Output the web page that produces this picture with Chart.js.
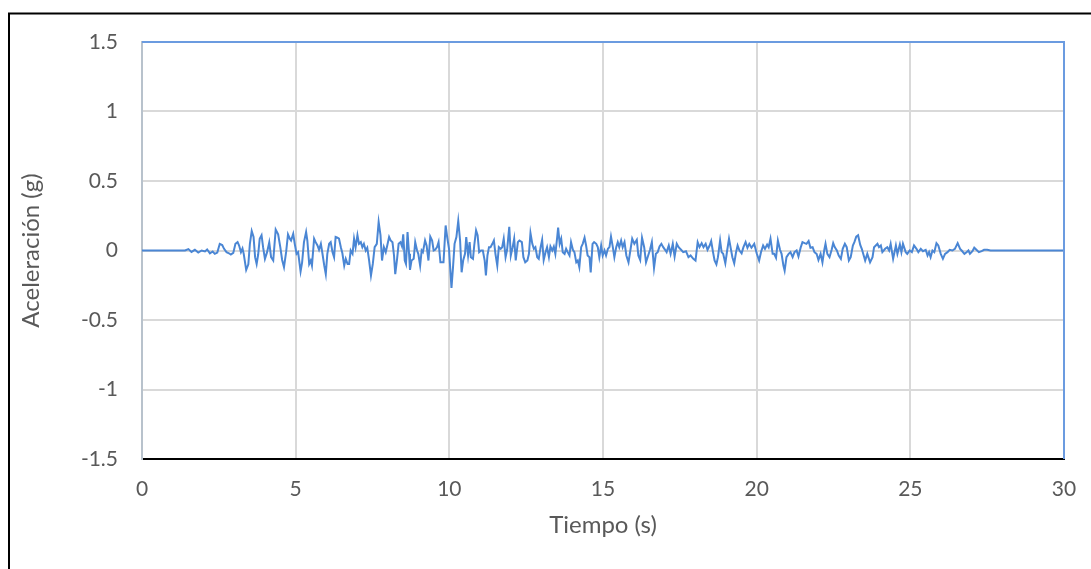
<!DOCTYPE html>
<html lang="es">
<head>
    <meta charset="UTF-8">
    <title>Acelerograma</title>
    <script src="https://cdn.jsdelivr.net/npm/chart.js@4.4.1/dist/chart.umd.min.js"></script>
    <style>
        html, body { margin: 0; padding: 0; background: #ffffff; }
        #grafico { display: block; }
    </style>
</head>
<body>
    <canvas id="grafico" width="1091" height="569"></canvas>

<script>
    // registro: tiempo (s) y aceleracion (g)
    const tiempo = [
        0, 1.40, 1.51, 1.61, 1.72, 1.83, 1.94, 2.05, 2.12, 2.21, 2.30, 2.37, 2.45, 2.53, 2.61, 2.67, 2.75, 2.83, 2.89, 2.97,
        3.04, 3.11, 3.16, 3.22, 3.27, 3.31, 3.39, 3.46, 3.51, 3.57, 3.63, 3.68, 3.73, 3.78, 3.83, 3.89, 3.94, 4.00, 4.07, 4.14,
        4.20, 4.27, 4.35, 4.43, 4.50, 4.56, 4.62, 4.69, 4.75, 4.81, 4.85, 4.92, 4.97, 5.03, 5.08, 5.16, 5.21, 5.27, 5.34, 5.38,
        5.44, 5.49, 5.53, 5.60, 5.65, 5.71, 5.76, 5.82, 5.87, 5.93, 5.98, 6.03, 6.09, 6.14, 6.20, 6.25, 6.30, 6.36, 6.41, 6.47,
        6.52, 6.58, 6.63, 6.69, 6.74, 6.79, 6.85, 6.90, 6.95, 7.01, 7.06, 7.12, 7.17, 7.22, 7.28, 7.33, 7.39, 7.45, 7.51, 7.57,
        7.64, 7.70, 7.76, 7.81, 7.87, 7.93, 7.98, 8.04, 8.09, 8.15, 8.20, 8.24, 8.30, 8.35, 8.41, 8.46, 8.50, 8.55, 8.59, 8.64,
        8.69, 8.72, 8.77, 8.84, 8.89, 8.95, 8.99, 9.05, 9.10, 9.14, 9.21, 9.26, 9.32, 9.38, 9.44, 9.49, 9.54, 9.60, 9.65, 9.71,
        9.76, 9.81, 9.88, 9.93, 9.99, 10.03, 10.07, 10.12, 10.17, 10.23, 10.29, 10.35, 10.40, 10.45, 10.51, 10.55, 10.61, 10.66, 10.70, 10.77,
        10.81, 10.87, 10.92, 10.97, 11.03, 11.09, 11.15, 11.19, 11.24, 11.29, 11.34, 11.40, 11.45, 11.50, 11.56, 11.61, 11.67, 11.72, 11.77, 11.83,
        11.88, 11.95, 12.00, 12.06, 12.11, 12.16, 12.23, 12.28, 12.36, 12.41, 12.47, 12.54, 12.59, 12.64, 12.70, 12.75, 12.80, 12.86, 12.91, 12.97,
        13.02, 13.07, 13.13, 13.18, 13.24, 13.29, 13.35, 13.40, 13.45, 13.51, 13.54, 13.59, 13.64, 13.69, 13.75, 13.80, 13.85, 13.91, 13.96, 14.02,
        14.07, 14.13, 14.18, 14.23, 14.29, 14.34, 14.40, 14.45, 14.50, 14.56, 14.60, 14.66, 14.71, 14.78, 14.83, 14.88, 14.94, 14.99, 15.05, 15.10,
        15.16, 15.21, 15.26, 15.32, 15.37, 15.43, 15.48, 15.53, 15.59, 15.64, 15.70, 15.76, 15.83, 15.89, 15.95, 16.02, 16.10, 16.15, 16.21, 16.27,
        16.34, 16.40, 16.47, 16.53, 16.59, 16.63, 16.66, 16.72, 16.78, 16.84, 16.90, 16.96, 17.02, 17.07, 17.14, 17.20, 17.27, 17.33, 17.40, 17.46,
        17.54, 17.61, 17.70, 17.78, 17.85, 17.94, 18.01, 18.08, 18.14, 18.21, 18.27, 18.34, 18.40, 18.47, 18.52, 18.58, 18.63, 18.69, 18.74, 18.81,
        18.86, 18.91, 18.98, 19.04, 19.10, 19.15, 19.21, 19.27, 19.33, 19.38, 19.44, 19.51, 19.57, 19.64, 19.70, 19.76, 19.83, 19.92, 20.00, 20.08,
        20.14, 20.21, 20.27, 20.34, 20.39, 20.45, 20.52, 20.57, 20.63, 20.69, 20.76, 20.81, 20.87, 20.91, 20.97, 21.04, 21.10, 21.17, 21.23, 21.30,
        21.36, 21.43, 21.49, 21.56, 21.62, 21.69, 21.75, 21.82, 21.88, 21.95, 22.01, 22.08, 22.14, 22.20, 22.24, 22.30, 22.37, 22.44, 22.49, 22.54,
        22.61, 22.67, 22.74, 22.80, 22.87, 22.93, 23.00, 23.06, 23.13, 23.18, 23.24, 23.30, 23.37, 23.42, 23.53, 23.60, 23.69, 23.77, 23.82, 23.93,
        23.98, 24.04, 24.09, 24.18, 24.25, 24.31, 24.36, 24.44, 24.53, 24.58, 24.66, 24.71, 24.76, 24.85, 24.90, 24.98, 25.05, 25.12, 25.20, 25.26,
        25.34, 25.41, 25.50, 25.56, 25.61, 25.66, 25.72, 25.78, 25.85, 25.91, 25.99, 26.06, 26.13, 26.21, 26.28, 26.37, 26.45, 26.54, 26.62, 26.67,
        26.76, 26.83, 26.89, 26.94, 27.02, 27.08, 27.15, 27.23, 27.32, 27.40, 27.50, 27.61, 30
    ];
    const aceleracion = [
        0, 0, 0.010, -0.010, 0.005, -0.015, 0, -0.007, 0.007, -0.020, -0.007, -0.024, -0.015, 0.048, 0.039, 0.012, -0.012, -0.020, -0.029, -0.017,
        0.048, 0.060, 0.036, -0.012, 0.014, -0.024, -0.140, -0.100, 0.048, 0.140, 0.097, -0.048, -0.097, -0.029, 0.085, 0.110, 0.024, -0.060, -0.012, 0.058,
        -0.048, -0.072, 0.150, 0.116, 0.024, -0.068, -0.120, -0.010, 0.116, 0.085, 0.072, 0.120, 0.048, -0.024, -0.012, -0.150, -0.085, 0.060, 0.133, 0.072,
        -0.097, -0.072, -0.109, 0.085, 0.060, 0.036, 0.005, 0.048, -0.020, -0.109, -0.170, -0.024, 0.048, 0.060, -0.012, -0.048, 0.097, 0.092, 0.085, 0.024,
        -0.020, -0.109, -0.060, -0.097, -0.097, 0, -0.024, 0.085, 0.024, 0.110, 0.048, 0.060, 0.024, 0.048, 0, 0.020, -0.072, -0.180, -0.097, 0.024,
        0.048, 0.205, 0.110, -0.072, 0.024, -0.012, 0.036, 0.097, 0.072, 0.060, -0.036, -0.170, -0.060, 0.048, 0.060, 0.030, 0.116, -0.072, -0.097, 0.133,
        -0.024, -0.140, -0.072, -0.060, 0.060, 0, -0.024, -0.109, 0, -0.012, 0.072, 0.036, -0.072, 0.100, 0.072, 0, 0.005, 0.024, 0.060, -0.085,
        -0.085, -0.085, 0.180, 0.097, 0.012, -0.133, -0.270, -0.120, 0.048, 0.097, 0.213, 0.072, -0.157, -0.072, -0.024, 0.097, -0.036, 0.060, -0.048, -0.060,
        0.036, 0.145, 0.110, -0.012, 0, 0, -0.072, -0.180, -0.036, 0.024, 0.024, 0.048, 0.072, -0.024, -0.109, 0.024, 0.012, 0.024, 0.085, -0.048,
        0.005, 0.170, -0.036, 0.024, 0.085, -0.072, 0.060, 0.072, 0.060, -0.048, -0.085, -0.072, -0.024, 0.126, 0.048, 0.012, 0.024, -0.048, -0.060, 0.024,
        0.077, -0.068, -0.012, 0.024, -0.048, 0.029, 0, 0.029, -0.024, 0.097, 0.164, 0.048, 0.085, -0.012, -0.024, 0.012, -0.012, -0.036, 0.060, 0.005,
        -0.012, -0.085, -0.072, -0.120, 0.024, 0.048, 0.092, 0.036, -0.036, -0.048, -0.157, 0.048, 0.060, 0.048, 0.024, -0.048, 0.036, -0.036, 0, -0.036,
        0.012, 0.024, 0.100, 0.024, -0.048, 0.024, 0.060, 0.024, 0.072, 0.024, 0.060, -0.036, -0.085, 0, 0.085, 0.048, 0.077, -0.036, -0.068, 0.092,
        0.024, -0.085, -0.036, 0.005, 0.060, -0.048, -0.126, -0.024, -0.012, 0.029, 0.048, 0.024, 0.005, -0.012, 0.036, -0.024, 0.048, -0.043, 0.048, 0.024,
        0.005, -0.012, -0.005, -0.048, -0.036, -0.060, -0.072, 0.060, 0.024, 0.053, 0.024, 0.048, 0.005, 0.036, 0.068, -0.012, -0.072, -0.100, -0.048, 0.072,
        -0.012, -0.024, -0.092, 0, 0.085, 0.024, -0.048, -0.092, -0.012, 0.036, 0, -0.020, 0.024, 0.060, 0.020, 0.048, 0.020, 0.048, -0.020, -0.072,
        -0.012, 0.036, 0.012, 0.043, 0.024, 0.085, -0.024, -0.024, -0.053, 0.072, 0.005, -0.024, -0.109, -0.145, -0.048, -0.024, -0.012, -0.048, -0.012, 0,
        -0.043, 0.020, 0.060, 0.053, 0.048, 0.068, 0.020, 0.024, -0.012, -0.024, -0.068, -0.024, -0.085, 0.005, 0.048, -0.024, -0.048, 0.005, 0.053, 0.024,
        0, -0.036, -0.060, 0.012, 0.048, 0.024, -0.072, -0.048, 0.036, 0.060, 0.100, 0.110, 0.040, 0.012, -0.072, -0.024, -0.085, -0.048, 0.024, 0.048,
        0.024, 0.036, -0.012, 0.012, 0.024, 0, 0.048, -0.060, 0.036, -0.024, 0.043, -0.012, 0.048, -0.012, -0.024, 0, -0.012, 0.036, 0.012, -0.012,
        0.012, -0.005, 0.005, -0.036, -0.012, -0.048, 0, -0.012, 0.053, 0.036, -0.024, -0.060, -0.024, -0.012, 0.005, 0, 0.012, 0.053, 0.012, 0,
        -0.024, -0.012, 0, -0.024, -0.005, 0.020, 0.005, -0.012, -0.005, 0.005, 0.005, 0, 0
    ];

    // ejes
    const ejeX = { min: 0, max: 30, paso: 5, titulo: 'Tiempo (s)' };
    const ejeY = { min: -1.5, max: 1.5, paso: 0.5, titulo: 'Aceleración (g)' };

    const puntos = tiempo.map((t, i) => ({ x: t, y: aceleracion[i] }));

    const textoGris = '#595959';
    const azul = '#4a86d4';

    // marco exterior (izq. y arriba) y borde azul del area de trazado
    const marco = {
        id: 'marco',
        afterDraw(chart) {
            const ctx = chart.ctx;
            const a = chart.chartArea;
            ctx.save();
            ctx.strokeStyle = '#000000';
            ctx.lineWidth = 2;
            ctx.beginPath();
            ctx.moveTo(9, chart.height);
            ctx.lineTo(9, 13.5);
            ctx.lineTo(chart.width, 13.5);
            ctx.stroke();

            ctx.strokeStyle = '#6b9be0';
            ctx.lineWidth = 2;
            ctx.beginPath();
            ctx.moveTo(a.left, a.top);
            ctx.lineTo(a.right, a.top);
            ctx.lineTo(a.right, a.bottom);
            ctx.stroke();
            ctx.restore();
        }
    };

    const ctx = document.getElementById('grafico').getContext('2d');
    new Chart(ctx, {
        type: 'line',
        data: {
            datasets: [{
                data: puntos,
                borderColor: azul,
                borderWidth: 2,
                pointRadius: 0,
                tension: 0,
                fill: false
            }]
        },
        options: {
            responsive: false,
            animation: false,
            layout: { padding: { left: 0, top: 42, right: 27, bottom: 0 } },
            plugins: {
                legend: { display: false },
                tooltip: { enabled: false }
            },
            scales: {
                x: {
                    type: 'linear',
                    min: ejeX.min,
                    max: ejeX.max,
                    afterFit: (s) => {
                        s.height = 110;
                        s.paddingLeft = 0;
                        s.paddingRight = 0;
                    },
                    ticks: {
                        stepSize: ejeX.paso,
                        padding: 18,
                        color: textoGris,
                        font: { family: 'Lato', size: 21 }
                    },
                    grid: { color: '#d9d9d9', lineWidth: 2, drawTicks: false },
                    border: { color: '#000000', width: 2 },
                    title: {
                        display: true,
                        text: ejeX.titulo,
                        color: textoGris,
                        font: { family: 'Lato', size: 24 },
                        padding: { top: 0, bottom: 29 }
                    }
                },
                y: {
                    min: ejeY.min,
                    max: ejeY.max,
                    afterFit: (s) => {
                        s.width = 142;
                        s.paddingTop = 0;
                        s.paddingBottom = 0;
                    },
                    ticks: {
                        stepSize: ejeY.paso,
                        padding: 24,
                        color: textoGris,
                        font: { family: 'Lato', size: 21 },
                        callback: (v) => String(v)
                    },
                    grid: { color: '#d9d9d9', lineWidth: 2, drawTicks: false },
                    border: { color: '#b8c2cc', width: 2 },
                    title: {
                        display: true,
                        text: ejeY.titulo,
                        color: textoGris,
                        font: { family: 'Lato', size: 24 },
                        padding: { top: 17, bottom: 0 }
                    }
                }
            }
        },
        plugins: [marco]
    });
</script>
</body>
</html>
